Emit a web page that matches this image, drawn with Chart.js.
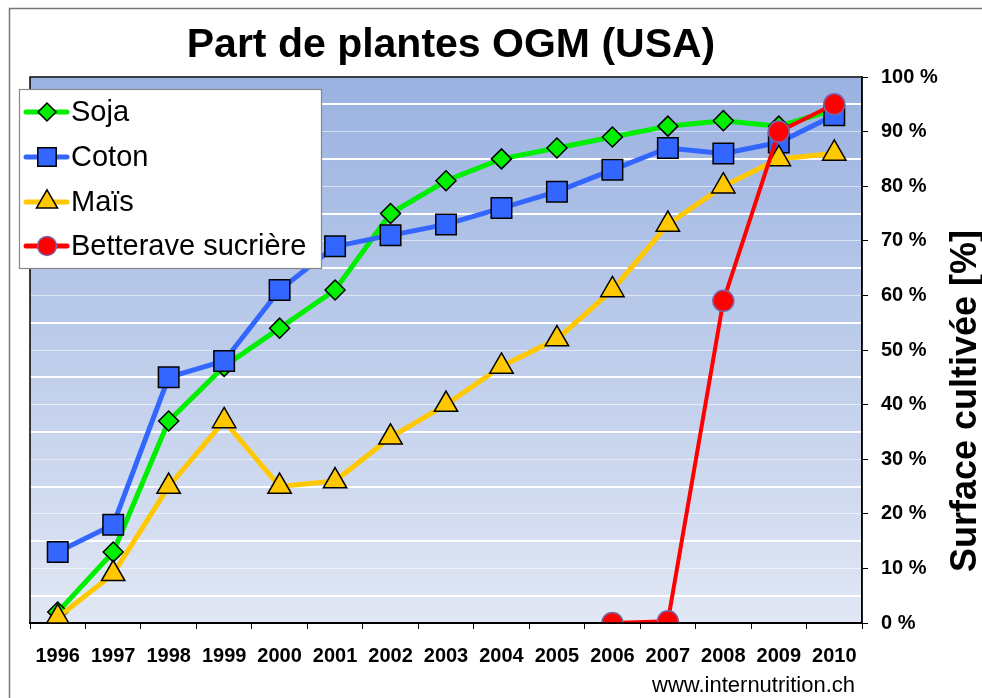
<!DOCTYPE html>
<html>
<head>
<meta charset="utf-8">
<script src="https://cdn.jsdelivr.net/npm/chart.js@4.4.1/dist/chart.umd.min.js"></script>
<style>
  html, body { margin: 0; padding: 0; background: #fff; }
  #wrap { width: 982px; height: 698px; }
</style>
</head>
<body>
<div id="wrap"><canvas id="chart" width="982" height="698"></canvas></div>
<script>
const years = ["1996","1997","1998","1999","2000","2001","2002","2003","2004","2005","2006","2007","2008","2009","2010"];
const soja = [2, 13, 37, 47, 54, 61, 75, 81, 85, 87, 89, 91, 92, 91, 94];
const coton = [13, 18, 45, 48, 61, 69, 71, 73, 76, 79, 83, 87, 86, 88, 93];
const mais = [1, 9, 25, 37, 25, 26, 34, 40, 47, 52, 61, 73, 80, 85, 86];
const betterave = [null, null, null, null, null, null, null, null, null, null, 0, 0.3, 59, 90, 95];

const FONT = "Arial, 'Liberation Sans', sans-serif";

// series styles, used for chart and the hand-drawn legend
const series = [
  { label: "Soja", data: soja, color: "#00ee00", style: "rectRot", radius: 10, border: "#000", order: 4 },
  { label: "Coton", data: coton, color: "#3366ff", style: "rect", radius: 14.5, border: "#000", order: 3 },
  { label: "Maïs", data: mais, color: "#ffc800", style: "triangle", radius: 13.5, border: "#000", order: 2 },
  { label: "Betterave sucrière", data: betterave, color: "#ff0000", style: "circle", radius: 10.5, border: "#7766aa", order: 1 }
];

const decor = {
  id: "decor",
  beforeDraw(chart) {
    const { ctx, chartArea: a } = chart;
    ctx.save();
    // outer frame
    ctx.strokeStyle = "#777";
    ctx.lineWidth = 1.5;
    ctx.strokeRect(9.5, 8.5, 1100, 1100);
    // plot background
    const g = ctx.createLinearGradient(0, a.top, 0, a.bottom);
    g.addColorStop(0, "#9ab2e1");
    g.addColorStop(1, "#e1e7f4");
    ctx.fillStyle = g;
    ctx.fillRect(a.left, a.top, a.right - a.left, a.bottom - a.top);
    ctx.restore();
  },
  afterDatasetsDraw(chart) {
    const { ctx, chartArea: a } = chart;
    ctx.save();
    ctx.strokeStyle = "#000";
    ctx.lineWidth = 1.5;
    ctx.strokeRect(a.left, a.top, a.right - a.left, a.bottom - a.top);
    ctx.restore();
  },
  afterDraw(chart) {
    const { ctx } = chart;
    ctx.save();
    // title
    ctx.fillStyle = "#000";
    ctx.font = "bold 41px " + FONT;
    ctx.textAlign = "center";
    ctx.textBaseline = "middle";
    ctx.fillText("Part de plantes OGM (USA)", 451, 46);

    // y axis title, reads bottom to top
    ctx.save();
    ctx.translate(966, 401);
    ctx.rotate(-Math.PI / 2);
    ctx.font = "bold 36px " + FONT;
    ctx.fillText("Surface cultivée [%]", 0, 0);
    ctx.restore();

    // source
    ctx.font = "22px " + FONT;
    ctx.textAlign = "right";
    ctx.fillText("www.internutrition.ch", 855, 686);

    // legend
    ctx.fillStyle = "#fff";
    ctx.fillRect(19, 89, 302, 179);
    ctx.strokeStyle = "#888";
    ctx.lineWidth = 1.2;
    ctx.strokeRect(19.5, 89.5, 302, 179);
    const rows = [112, 157, 202, 246];
    series.forEach((s, i) => {
      const y = rows[i];
      ctx.strokeStyle = s.color;
      ctx.lineWidth = 5;
      ctx.lineCap = "round";
      ctx.beginPath();
      ctx.moveTo(26, y);
      ctx.lineTo(67, y);
      ctx.stroke();
      ctx.fillStyle = s.color;
      ctx.strokeStyle = s.border;
      ctx.lineWidth = 1.5;
      Chart.helpers.drawPoint(ctx, { pointStyle: s.style, radius: s.radius * 0.9, rotation: 0, borderWidth: 1.5 }, 47, y);
      ctx.fillStyle = "#000";
      ctx.font = "29px " + FONT;
      ctx.textAlign = "left";
      ctx.textBaseline = "middle";
      ctx.fillText(s.label, 71, y + 1);
    });
    ctx.restore();
  }
};

new Chart(document.getElementById("chart"), {
  type: "line",
  data: {
    labels: years,
    datasets: series.map(s => ({
      label: s.label,
      data: s.data,
      order: s.order,
      borderColor: s.color,
      backgroundColor: s.color,
      borderWidth: s.label === "Betterave sucrière" ? 4 : 5,
      pointStyle: s.style,
      pointRadius: s.radius,
      pointHoverRadius: s.radius,
      pointBackgroundColor: s.color,
      pointBorderColor: s.border,
      pointBorderWidth: 1.5,
      tension: 0,
      spanGaps: false
    }))
  },
  options: {
    responsive: false,
    animation: false,
    layout: { padding: { left: 30, top: 77, right: 0, bottom: 0 } },
    plugins: { legend: { display: false }, title: { display: false }, tooltip: { enabled: false } },
    scales: {
      x: {
        offset: true,
        grid: { offset: true, drawOnChartArea: false, tickLength: 6, color: "#000", lineWidth: 1 },
        border: { color: "#000", width: 2 },
        ticks: { color: "#000", font: { family: FONT, size: 20, weight: "bold" }, padding: 15, maxRotation: 0, autoSkip: false },
        afterFit(scale) { scale.height = 75; }
      },
      y: {
        position: "right",
        min: 0,
        max: 100,
        grid: {
          color: ctx => ctx.tick && ctx.tick.value % 10 === 0 ? "rgba(255,255,255,0.55)" : "#fff",
          lineWidth: ctx => ctx.tick && ctx.tick.value % 10 === 0 ? 1 : 2,
          tickColor: ctx => ctx.tick && ctx.tick.value % 10 === 0 ? "#000" : "rgba(0,0,0,0)",
          tickWidth: 1,
          tickLength: 6
        },
        border: { color: "#000", width: 1.5 },
        ticks: {
          stepSize: 5,
          color: "#000",
          padding: 13,
          font: { family: FONT, size: 20, weight: "bold" },
          callback: v => v % 10 === 0 ? v + " %" : ""
        },
        afterFit(scale) { scale.width = 120; }
      }
    }
  },
  plugins: [decor]
});
</script>
</body>
</html>
